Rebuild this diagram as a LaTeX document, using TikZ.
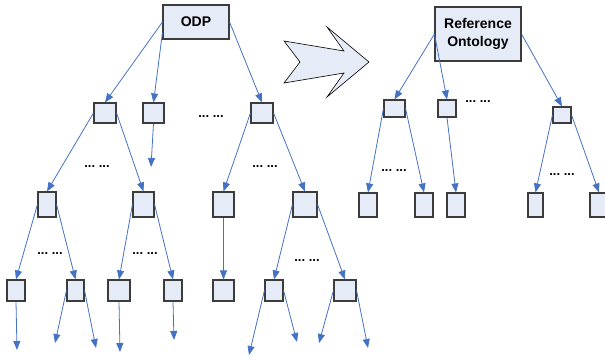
\documentclass[tikz,border=0pt]{standalone}
\usepackage{fontspec}
\setmainfont{Liberation Sans}
\usetikzlibrary{arrows.meta,calc}
\definecolor{boxfill}{RGB}{230,236,247}
\definecolor{linkblue}{RGB}{68,114,196}
\definecolor{boxedge}{RGB}{60,60,60}
\begin{document}
\begin{tikzpicture}[x=1pt,y=-1pt,
  box/.style={draw=boxedge,line width=1.1pt,fill=boxfill,inner sep=0pt,
    minimum width=#1},
  box/.default=20pt,
  link/.style={draw=linkblue,line width=0.8pt,-{Triangle[length=9pt,width=7pt]}},
  dots/.style={inner sep=0pt,font=\fontsize{13}{13}\selectfont\bfseries},
  title/.style={font=\fontsize{14}{18}\selectfont\bfseries,align=center}]
\useasboundingbox (0,0) rectangle (605,358);
% big arrow
\draw[fill=boxfill,draw=black,line width=0.6pt] (284,41) -- (344,51) -- (327,27) -- (369,62) -- (327,97) -- (344,73) -- (284,83) -- (300,62) -- cycle;
% left tree nodes
\node[box=66pt,minimum height=34pt,title] (ODP) at (196,22) {ODP};
\node[box=22pt,minimum height=20pt] (A) at (105,113) {};
\node[box=21pt,minimum height=20pt] (B) at (153.5,113) {};
\node[box=22pt,minimum height=20pt] (C) at (262,113) {};
\node[box=18pt,minimum height=25pt] (D) at (47,204.5) {};
\node[box=21pt,minimum height=25pt] (E) at (143.5,204.5) {};
\node[box=21pt,minimum height=25pt] (F) at (223.5,204.5) {};
\node[box=24pt,minimum height=25pt] (G) at (305,204.5) {};
\node[box=18pt,minimum height=21pt] (H) at (16,290.5) {};
\node[box=17pt,minimum height=21pt] (I) at (75.5,290.5) {};
\node[box=22pt,minimum height=21pt] (J) at (119,290.5) {};
\node[box=18pt,minimum height=21pt] (K) at (173,290.5) {};
\node[box=21pt,minimum height=21pt] (L) at (223.5,290.5) {};
\node[box=18pt,minimum height=21pt] (M) at (274,290.5) {};
\node[box=22pt,minimum height=21pt] (N) at (345,290.5) {};
% right tree nodes
\node[box=86pt,minimum height=54pt,title] (Ref) at (478,34) {Reference\\Ontology};
\node[box=21pt,minimum height=17pt] (P) at (394.5,108.5) {};
\node[box=18pt,minimum height=17pt] (Q) at (447,108.5) {};
\node[box=18pt,minimum height=16pt] (R) at (562,115) {};
\node[box=18pt,minimum height=24pt] (S) at (368,205) {};
\node[box=18pt,minimum height=24pt] (T) at (424,205) {};
\node[box=18pt,minimum height=24pt] (U) at (456,205) {};
\node[box=15pt,minimum height=24pt] (V) at (535.5,205) {};
\node[box=18pt,minimum height=24pt] (W) at (599,205) {};
% dots
\node[dots] (d1) at (211,117) {...~...};
\node[dots] (d2) at (97,167) {...~...};
\node[dots] (d3) at (265,167) {...~...};
\node[dots] (d4) at (50,254) {...~...};
\node[dots] (d5) at (145,254) {...~...};
\node[dots] (d6) at (307,261) {...~...};
\node[dots] (d7) at (478,102) {...~...};
\node[dots] (d8) at (394,171) {...~...};
\node[dots] (d9) at (562,175) {...~...};
% free ends
\coordinate (b1) at (151,167);
\coordinate (h1) at (17,350);
\coordinate (i1) at (55,343);
\coordinate (i2) at (96,348);
\coordinate (j1) at (120,352);
\coordinate (k1) at (174,340);
\coordinate (m1) at (249,355);
\coordinate (m2) at (297,342);
\coordinate (n1) at (319,343);
\coordinate (n2) at (368,348);
% left tree connectors
\draw[link] (ODP.west) -- (A.north);
\draw[link] ([yshift=7pt]ODP.south west) -- (B.north);
\draw[link] (ODP.east) -- (C.north);
\draw[link] (B.south) -- (b1);
\draw[link] (A.west) -- (D.north);
\draw[link] (A.east) -- (E.north);
\draw[link] (C.west) -- (F.north);
\draw[link] (C.east) -- (G.north);
\draw[link] (D.west) -- (H.north);
\draw[link] (D.east) -- (I.north);
\draw[link] (E.west) -- (J.north);
\draw[link] (E.east) -- (K.north);
\draw[link] (F.south) -- (L.north);
\draw[link] (G.west) -- (M.north);
\draw[link] (G.east) -- (N.north);
\draw[link] (H.south) -- (h1);
\draw[link] (I.west) -- (i1);
\draw[link] (I.east) -- (i2);
\draw[link] (J.south) -- (j1);
\draw[link] (K.south) -- (k1);
\draw[link] (M.west) -- (m1);
\draw[link] (M.east) -- (m2);
\draw[link] (N.west) -- (n1);
\draw[link] (N.east) -- (n2);
% right tree connectors
\draw[link] (Ref.west) -- (P.north);
\draw[link] (Ref.west) -- (Q.north);
\draw[link] (Ref.east) -- (R.north);
\draw[link] (P.west) -- (S.north);
\draw[link] (P.east) -- (T.north);
\draw[link] (Q.south) -- (U.north);
\draw[link] (R.west) -- (V.north);
\draw[link] (R.east) -- (W.north);
\end{tikzpicture}
\end{document}
